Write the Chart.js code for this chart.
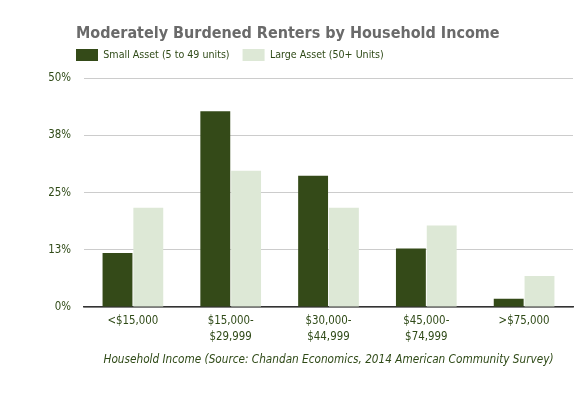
<!DOCTYPE html>
<html>
<head>
<meta charset="utf-8">
<script src="https://cdn.jsdelivr.net/npm/chart.js@4"></script>
<style>
  html, body { margin: 0; padding: 0; background: #fff; }
  #wrap { width: 584px; height: 396px; }
</style>
</head>
<body>
<div id="wrap"><canvas id="rentChart" width="584" height="396"></canvas></div>
<script>
const categories = [['<$15,000'], ['$15,000-', '$29,999'], ['$30,000-', '$44,999'], ['$45,000-', '$74,999'], ['>$75,000']];
const smallAsset = [11.8, 42.8, 28.7, 12.8, 1.8];
const largeAsset = [21.7, 29.8, 21.7, 17.8, 6.8];
const yTickValues = [0, 12.5, 25, 37.5, 50];
const yTickLabels = ['0%', '13%', '25%', '38%', '50%'];

const green = '#2f4a17';
const font = 'DejaVu Sans Condensed';

// title and legend sit left-aligned over the tick labels, not the plot
const headerOffset = {
  id: 'headerOffset',
  afterLayout(chart) {
    chart.titleBlock.left = 76;
    chart.titleBlock.top = 24;
    chart.legend.left = 63;
    chart.legend.top = 36;
  }
};

const ctx = document.getElementById('rentChart').getContext('2d');
new Chart(ctx, {
  type: 'bar',
  data: {
    labels: categories,
    datasets: [{
      label: 'Small Asset (5 to 49 units)',
      data: smallAsset,
      backgroundColor: '#344a18',
      barPercentage: 0.97,
      categoryPercentage: 0.63
    }, {
      label: 'Large Asset (50+ Units)',
      data: largeAsset,
      backgroundColor: '#dde8d6',
      barPercentage: 0.97,
      categoryPercentage: 0.63
    }]
  },
  plugins: [headerOffset],
  options: {
    responsive: false,
    animation: false,
    layout: { padding: { left: 0, right: 11, top: 24, bottom: 25 } },
    plugins: {
      title: {
        display: true,
        align: 'start',
        text: 'Moderately Burdened Renters by Household Income',
        color: '#6a6a6a',
        font: { family: font, size: 16, weight: 'bold' },
        padding: 0
      },
      legend: {
        align: 'start',
        labels: {
          color: green,
          font: { family: font, size: 10.6 },
          boxWidth: 22,
          boxHeight: 12,
          padding: 13
        }
      },
      tooltip: { enabled: false }
    },
    scales: {
      x: {
        grid: { display: false, drawTicks: false },
        border: { display: true, color: '#333', width: 1.5 },
        ticks: { color: green, font: { family: font, size: 11.4, lineHeight: 1.4 }, padding: 6, maxRotation: 0 },
        title: {
          display: true,
          text: 'Household Income (Source: Chandan Economics, 2014 American Community Survey)',
          color: green,
          font: { family: font, size: 11.7, style: 'italic' },
          padding: { top: 2, bottom: 4 }
        }
      },
      y: {
        min: 0,
        max: 50,
        afterFit: function(scale) { scale.width = 84; },
        afterBuildTicks: function(scale) {
          scale.ticks = yTickValues.map(v => ({ value: v }));
        },
        grid: { color: '#cccccc', drawTicks: false },
        border: { display: false },
        ticks: {
          color: green,
          font: { family: font, size: 11.4 },
          padding: 13,
          callback: function(value) {
            return yTickLabels[yTickValues.indexOf(value)];
          }
        }
      }
    }
  }
});
</script>
</body>
</html>
